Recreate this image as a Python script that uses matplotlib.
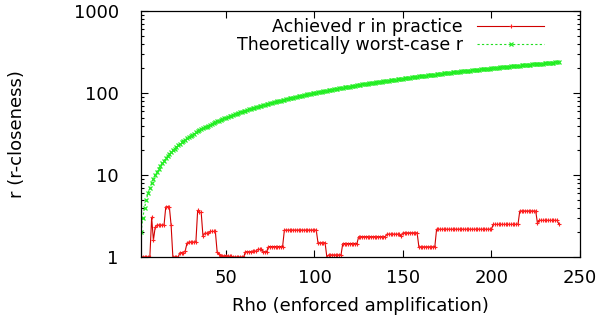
import numpy as np
import matplotlib
matplotlib.use('Agg')
import matplotlib.pyplot as plt
from matplotlib.ticker import FixedLocator, LogLocator, NullFormatter

## Data (rho = 2 .. 238)
rho = np.arange(2, 239)

# achieved r in practice, one value per rho
achieved_r = [
    1, 1, 1, 1, 1, 1,                      # 2-7
    3.05, 1.6, 2.3,                        # 8-10
    2.45, 2.45, 2.45, 2.45, 2.45,          # 11-15
    4.1, 4.1, 4.1, 2.45,                   # 16-19
    1, 1, 1, 1,                            # 20-23
    1.13, 1.13, 1.13, 1.19, 1.48,          # 24-28
    1.52, 1.52, 1.52, 1.52, 1.52,          # 29-33
    3.7, 3.5, 3.5, 1.8,                    # 34-37
    1.95, 1.95, 1.95,                      # 38-40
    2.05, 2.05, 2.05, 2.05, 1.16, 1.1,     # 41-46
    1.02, 1.03, 1.03, 1.04, 1.03, 1.02, 1.02,   # 47-53
    1, 1, 1, 1, 1, 1, 1,                   # 54-60
    1.16, 1.16, 1.16, 1.16,                # 61-64
    1.18, 1.18, 1.18,                      # 65-67
    1.24, 1.24, 1.24,                      # 68-70
    1.16, 1.16, 1.16,                      # 71-73
    1.34, 1.34, 1.34, 1.34, 1.34, 1.34, 1.34, 1.34, 1.34,   # 74-82
    2.13, 2.13, 2.13, 2.13, 2.13, 2.13, 2.13, 2.13, 2.13, 2.13,   # 83-92
    2.13, 2.13, 2.13, 2.13, 2.13, 2.13, 2.13, 2.13, 2.13,         # 93-101
    1.49, 1.49, 1.49, 1.49, 1.49,          # 102-106
    1, 1.06, 1.06, 1.06, 1.06, 1.06, 1.06, 1.06, 1.06,            # 107-115
    1.46, 1.46, 1.46, 1.46, 1.46, 1.46, 1.46, 1.46, 1.46,         # 116-124
    1.77, 1.77, 1.77, 1.77, 1.77, 1.77, 1.77, 1.77,               # 125-132
    1.77, 1.77, 1.77, 1.77, 1.77, 1.77, 1.77, 1.77,               # 133-140
    1.9, 1.9, 1.9, 1.9, 1.9, 1.9, 1.9, 1.9, 1.8,                  # 141-149
    1.97, 1.97, 1.97, 1.97, 1.97, 1.97, 1.97, 1.97, 1.97,         # 150-158
    1.33, 1.33, 1.33, 1.33, 1.33, 1.33, 1.33, 1.33, 1.33, 1.33,   # 159-168
    2.18, 2.18, 2.18, 2.18, 2.18, 2.18, 2.18, 2.18,               # 169-176
    2.18, 2.18, 2.18, 2.18, 2.18, 2.18, 2.18, 2.18,               # 177-184
    2.18, 2.18, 2.18, 2.18, 2.18, 2.18, 2.18, 2.18,               # 185-192
    2.18, 2.18, 2.18, 2.18, 2.18, 2.18, 2.18, 2.18,               # 193-200
    2.5, 2.5, 2.5, 2.5, 2.5, 2.5, 2.5, 2.5,                       # 201-208
    2.5, 2.5, 2.5, 2.5, 2.5, 2.5, 2.5,                            # 209-215
    3.64, 3.64, 3.64, 3.64, 3.64, 3.64, 3.64, 3.64, 3.64, 3.64,   # 216-225
    2.58,                                                         # 226
    2.8, 2.8, 2.8, 2.8, 2.8, 2.8, 2.8, 2.8, 2.8, 2.8, 2.8,        # 227-237
    2.55,                                                         # 238
]

# theoretically worst-case r, one value per rho
worst_r = [
    2, 3, 4, 5, 6, 7, 8, 9, 10, 11, 12, 13, 14, 15, 16, 17, 18, 19, 20,
    21, 22, 23, 24, 25, 26, 27, 28, 29, 30, 31, 32, 33, 34, 35, 36, 37, 38,
    39, 40, 41, 42, 43, 44, 45, 46, 47, 48, 49, 50, 51, 52, 53, 54, 55, 56,
    57, 58, 59, 60, 61, 62, 63, 64, 65, 66, 67, 68, 69, 70, 71, 72, 73, 74,
    75, 76, 77, 78, 79, 80, 81, 82, 83, 84, 85, 86, 87, 88, 89, 90, 91, 92,
    93, 94, 95, 96, 97, 98, 99, 100, 101, 102, 103, 104, 105, 106, 107, 108,
    109, 110, 111, 112, 113, 114, 115, 116, 117, 118, 119, 120, 121, 122,
    123, 124, 125, 126, 127, 128, 129, 130, 131, 132, 133, 134, 135, 136,
    137, 138, 139, 140, 141, 142, 143, 144, 145, 146, 147, 148, 149, 150,
    151, 152, 153, 154, 155, 156, 157, 158, 159, 160, 161, 162, 163, 164,
    165, 166, 167, 168, 169, 170, 171, 172, 173, 174, 175, 176, 177, 178,
    179, 180, 181, 182, 183, 184, 185, 186, 187, 188, 189, 190, 191, 192,
    193, 194, 195, 196, 197, 198, 199, 200, 201, 202, 203, 204, 205, 206,
    207, 208, 209, 210, 211, 212, 213, 214, 215, 216, 217, 218, 219, 220,
    221, 222, 223, 224, 225, 226, 227, 228, 229, 230, 231, 232, 233, 234,
    235, 236, 237, 238,
]

x_ticks = [50, 100, 150, 200, 250]
y_ticks = [1, 10, 100, 1000]
y_ticklabels = ['1', '10', '100', '1000']

## Plot
plt.rcParams['font.family'] = 'DejaVu Sans'
plt.rcParams['font.size'] = 13

fig = plt.figure(figsize=(6.06, 3.24), dpi=100)
ax = fig.add_axes([0.2327, 0.2068, 0.7243, 0.7592])

ax.plot(rho, achieved_r, color='#d00000', lw=0.8, marker='+', ms=3.5,
        mew=0.8, mec='#ff2020', label='Achieved r in practice')
ax.plot(rho, worst_r, color='#22dd22', lw=0.8, ls=(0, (2, 2)), marker='x',
        ms=3.5, mew=0.9, mec='#22ee22', label='Theoretically worst-case r')

ax.set_yscale('log')
ax.set_xlim(2, 250)
ax.set_ylim(1, 1000)

ax.xaxis.set_major_locator(FixedLocator(x_ticks))
ax.yaxis.set_major_locator(FixedLocator(y_ticks))
ax.set_yticklabels(y_ticklabels)
ax.yaxis.set_minor_locator(LogLocator(base=10, subs=np.arange(2, 10)))
ax.yaxis.set_minor_formatter(NullFormatter())

ax.tick_params(which='both', direction='in', top=True, right=True)
ax.tick_params(which='major', length=5, width=0.8)
ax.tick_params(which='minor', length=2.5, width=0.8)
ax.tick_params(axis='y', pad=16)
ax.tick_params(axis='x', pad=9)
for s in ax.spines.values():
    s.set_linewidth(0.9)

ax.set_xlabel('Rho (enforced amplification)', labelpad=7)
ax.set_ylabel('r (r-closeness)', labelpad=34)

leg = ax.legend(loc='upper right', bbox_to_anchor=(0.927, 0.985),
                markerfirst=False, frameon=False, numpoints=1,
                prop={'size': 12.5},
                handlelength=3.9, handletextpad=0.8, labelspacing=0.0,
                borderpad=0, borderaxespad=0.2)

fig.savefig('out.png', dpi=100)
